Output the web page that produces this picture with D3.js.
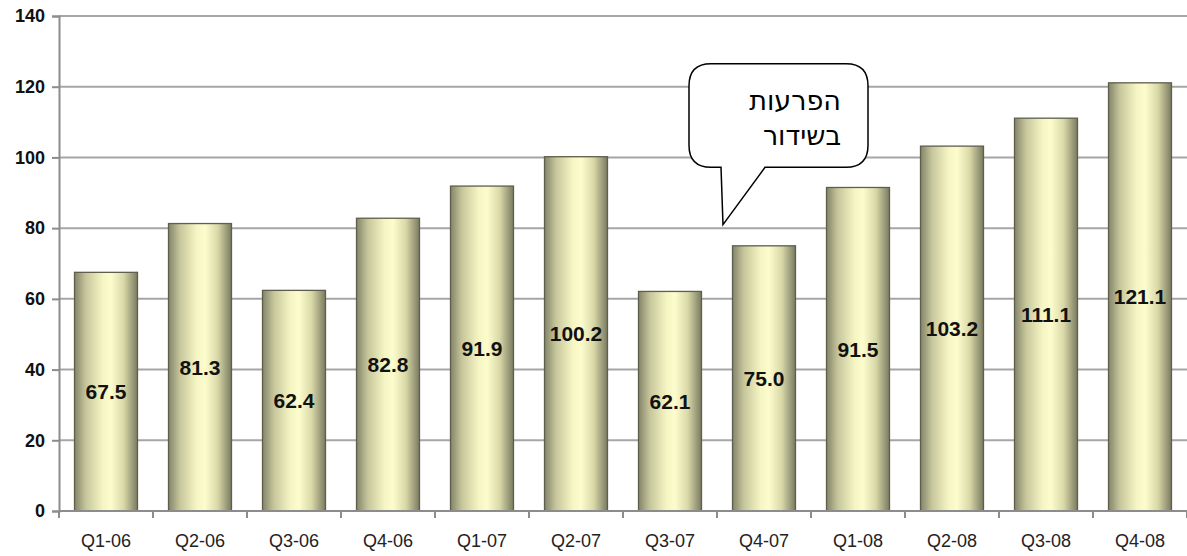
<!DOCTYPE html>
<html>
<head>
<meta charset="utf-8">
<script src="https://cdn.jsdelivr.net/npm/d3@7/dist/d3.min.js"></script>
<style>
  body { margin: 0; background: #fff; }
  svg { display: block; }
</style>
</head>
<body>
<svg id="chart"></svg>
<script>
// ---- data ----
const quarters = ['Q1-06','Q2-06','Q3-06','Q4-06','Q1-07','Q2-07','Q3-07','Q4-07','Q1-08','Q2-08','Q3-08','Q4-08'];
const values   = [67.5, 81.3, 62.4, 82.8, 91.9, 100.2, 62.1, 75.0, 91.5, 103.2, 111.1, 121.1];
const yTicks   = [0, 20, 40, 60, 80, 100, 120, 140];
const calloutLines = ['הפרעות', 'בשידור'];
const calloutAt = 'Q4-07';   // the tail points just left of this quarter
const calloutValue = 81;

const fullW = 1187, fullH = 556;
const margin = { top: 16, right: 0, bottom: 45, left: 59 };
const width  = fullW - margin.left - margin.right;
const height = fullH - margin.top - margin.bottom;

const svg = d3.select('#chart').attr('width', fullW).attr('height', fullH);

// bar gradient: dark olive edges, pale yellow middle
const defs = svg.append('defs');
const grad = defs.append('linearGradient').attr('id', 'barGrad')
  .attr('x1', '0%').attr('x2', '100%').attr('y1', '0%').attr('y2', '0%');
[
  [0, '#84846a'], [0.18, '#c6c69c'], [0.45, '#f6f6c4'], [0.58, '#fcfccd'],
  [0.78, '#d9d9a8'], [1, '#7a7a62']
].forEach(([o, c]) => grad.append('stop').attr('offset', o).attr('stop-color', c));

const g = svg.append('g').attr('transform', `translate(${margin.left},${margin.top})`);

const x = d3.scaleBand().domain(quarters).range([0, width]).paddingInner(0.33).paddingOuter(0.165);
const y = d3.scaleLinear().domain([0, 140]).range([height, 0]);

// gridlines
g.selectAll('line.grid')
  .data(yTicks.filter(t => t > 0))
  .join('line')
  .attr('class', 'grid')
  .attr('x1', 0).attr('x2', width)
  .attr('y1', d => y(d)).attr('y2', d => y(d))
  .attr('stroke', '#a6a6a6').attr('stroke-width', 2);

// y axis
const yAxis = g.append('g')
  .call(d3.axisLeft(y).tickValues(yTicks).tickSize(7).tickPadding(7).tickFormat(d3.format('d')));
yAxis.select('.domain').attr('stroke', '#8c8c8c').attr('stroke-width', 2);
yAxis.selectAll('.tick line').attr('stroke', '#8c8c8c').attr('stroke-width', 2);
yAxis.selectAll('text')
  .attr('font-family', 'Liberation Sans, Arial, sans-serif')
  .attr('font-size', '18px').attr('font-weight', 'bold').attr('fill', '#111');

// bars
g.selectAll('rect.bar')
  .data(values)
  .join('rect')
  .attr('class', 'bar')
  .attr('x', (d, i) => x(quarters[i]))
  .attr('y', d => y(d))
  .attr('width', x.bandwidth())
  .attr('height', d => height - y(d))
  .attr('fill', 'url(#barGrad)')
  .attr('stroke', '#5e5e4c').attr('stroke-width', 1.3);

// x axis (ticks at category boundaries)
const step = x.step();
const boundaries = d3.range(quarters.length + 1).map(i => i * step);
const xAxis = g.append('g').attr('transform', `translate(0,${height})`);
xAxis.append('line')
  .attr('x1', 0).attr('x2', width).attr('y1', 0).attr('y2', 0)
  .attr('stroke', '#8c8c8c').attr('stroke-width', 2);
xAxis.selectAll('line.tk')
  .data(boundaries)
  .join('line').attr('class', 'tk')
  .attr('x1', d => d).attr('x2', d => d).attr('y1', 0).attr('y2', 7)
  .attr('stroke', '#8c8c8c').attr('stroke-width', 2);
xAxis.selectAll('text')
  .data(quarters)
  .join('text')
  .attr('x', d => x(d) + x.bandwidth() / 2)
  .attr('y', 36)
  .attr('text-anchor', 'middle')
  .attr('font-family', 'Liberation Sans, Arial, sans-serif')
  .attr('font-size', '18px').attr('fill', '#222')
  .text(d => d);

// value labels in the middle of each bar
g.selectAll('text.val')
  .data(values)
  .join('text')
  .attr('class', 'val')
  .attr('x', (d, i) => x(quarters[i]) + x.bandwidth() / 2)
  .attr('y', d => (y(d) + height) / 2)
  .attr('dy', '0.35em')
  .attr('text-anchor', 'middle')
  .attr('font-family', 'Liberation Sans, Arial, sans-serif')
  .attr('font-size', '21px').attr('font-weight', 'bold').attr('fill', '#111')
  .text(d => d.toFixed(1));

// speech bubble callout
const tipX = x(calloutAt) - (step - x.bandwidth()) / 2 + 6;
const tipY = y(calloutValue);
const bx0 = tipX - 34, bx1 = tipX + 145, by0 = y(126.5), by1 = y(97.2), r = 22;
const tailL = tipX - 2, tailR = tipX + 42;
const bubble = `M${bx0 + r},${by0}
  L${bx1 - r},${by0} Q${bx1},${by0} ${bx1},${by0 + r}
  L${bx1},${by1 - r} Q${bx1},${by1} ${bx1 - r},${by1}
  L${tailR},${by1} L${tipX},${tipY} L${tailL},${by1}
  L${bx0 + r},${by1} Q${bx0},${by1} ${bx0},${by1 - r}
  L${bx0},${by0 + r} Q${bx0},${by0} ${bx0 + r},${by0} Z`;
g.append('path').attr('d', bubble)
  .attr('fill', '#fff').attr('stroke', '#000').attr('stroke-width', 1.5);

g.selectAll('text.callout')
  .data(calloutLines)
  .join('text')
  .attr('class', 'callout')
  .attr('x', bx1 - 27)
  .attr('y', (d, i) => by0 + 46 + i * 35)
  .attr('text-anchor', 'end')
  .attr('font-family', 'DejaVu Sans, Arial, sans-serif')
  .attr('font-size', '27px').attr('fill', '#000')
  .text(d => d);
</script>
</body>
</html>
